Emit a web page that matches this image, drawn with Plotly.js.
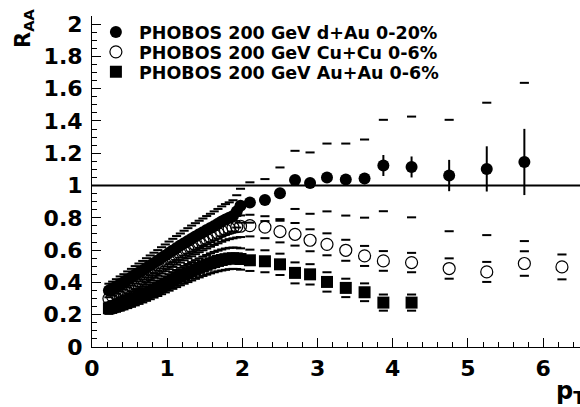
<!DOCTYPE html>
<html>
<head>
<meta charset="utf-8">
<script src="https://cdn.plot.ly/plotly-3.0.1.min.js"></script>
<style>html,body{margin:0;padding:0;background:#fff;}#chart{width:580px;height:407px;}</style>
</head>
<body>
<div id="chart"></div>
<script>
// ---- data ----
const seriesNames = ["PHOBOS 200 GeV d+Au 0-20%", "PHOBOS 200 GeV Cu+Cu 0-6%", "PHOBOS 200 GeV Au+Au 0-6%"];

const ptLow = [0.225,0.275,0.325,0.375,0.425,0.475,0.525,0.575,0.625,0.675,0.725,0.775,0.825,0.875,0.925,0.975,
               1.025,1.075,1.125,1.175,1.225,1.275,1.325,1.375,1.425,1.475,1.525,1.575,1.625,1.675,1.725,1.775,
               1.825,1.875,1.925,1.975];

const pt_dAu = ptLow.concat([2.1,2.3,2.5,2.7,2.9,3.125,3.375,3.625,3.875,4.25,4.75,5.25,5.75]);
const raa_dAu = [0.350,0.362,0.375,0.390,0.403,0.418,0.432,0.447,0.462,0.476,0.491,0.506,0.521,0.536,0.552,0.567,
                 0.583,0.598,0.613,0.628,0.643,0.657,0.671,0.685,0.698,0.711,0.724,0.737,0.750,0.763,0.778,0.790,
                 0.800,0.812,0.840,0.875,
                 0.895,0.91,0.952,1.035,1.015,1.05,1.037,1.043,1.124,1.115,1.062,1.103,1.146];
const stat_dAu = [0.01,0.01,0.01,0.01,0.01,0.01,0.01,0.01,0.01,0.01,0.01,0.01,0.01,0.01,0.01,0.01,
                  0.01,0.01,0.01,0.01,0.01,0.01,0.01,0.01,0.01,0.01,0.01,0.01,0.01,0.01,0.01,0.01,
                  0.01,0.01,0.01,0.01,
                  0.01,0.012,0.014,0.016,0.018,0.02,0.025,0.035,0.065,0.065,0.097,0.14,0.205];
const sys_dAu = [0.042,0.043,0.045,0.047,0.048,0.05,0.052,0.054,0.055,0.057,0.059,0.061,0.063,0.064,0.066,0.068,
                 0.07,0.072,0.074,0.075,0.077,0.079,0.081,0.082,0.084,0.085,0.087,0.088,0.09,0.092,0.093,0.095,
                 0.096,0.097,0.1,0.105,
                 0.125,0.13,0.16,0.18,0.19,0.21,0.223,0.242,0.283,0.312,0.345,0.41,0.49];

const pt_CuCu = ptLow.concat([2.1,2.3,2.5,2.7,2.9,3.125,3.375,3.625,3.875,4.25,4.75,5.25,5.75,6.25]);
const raa_CuCu = [0.300,0.312,0.325,0.338,0.352,0.366,0.380,0.395,0.410,0.425,0.440,0.455,0.470,0.485,0.500,0.515,
                  0.530,0.545,0.560,0.575,0.590,0.604,0.618,0.632,0.645,0.658,0.670,0.682,0.694,0.705,0.716,0.726,
                  0.734,0.740,0.745,0.748,
                  0.752,0.742,0.715,0.698,0.661,0.636,0.599,0.564,0.533,0.523,0.486,0.465,0.517,0.496];
const sys_CuCu = [0.027,0.028,0.029,0.03,0.032,0.033,0.034,0.036,0.037,0.038,0.04,0.041,0.042,0.044,0.045,0.046,
                  0.048,0.049,0.05,0.052,0.053,0.054,0.056,0.057,0.058,0.059,0.06,0.061,0.062,0.063,0.064,0.065,
                  0.066,0.067,0.067,0.067,
                  0.067,0.068,0.067,0.07,0.068,0.068,0.065,0.062,0.061,0.06,0.063,0.062,0.076,0.077];

const pt_AuAu = ptLow.concat([2.1,2.3,2.5,2.7,2.9,3.125,3.375,3.625,3.875,4.25]);
const raa_AuAu = [0.240,0.247,0.255,0.263,0.272,0.281,0.290,0.300,0.310,0.320,0.331,0.342,0.353,0.364,0.376,0.388,
                  0.400,0.412,0.424,0.436,0.447,0.458,0.469,0.480,0.490,0.500,0.509,0.518,0.526,0.533,0.539,0.544,
                  0.548,0.550,0.549,0.545,
                  0.537,0.531,0.512,0.459,0.45,0.403,0.366,0.339,0.275,0.275];
const sys_AuAu = [0.035,0.036,0.037,0.038,0.039,0.04,0.041,0.042,0.043,0.044,0.045,0.046,0.047,0.048,0.049,0.05,
                  0.051,0.052,0.053,0.054,0.055,0.056,0.057,0.058,0.059,0.06,0.061,0.062,0.063,0.064,0.065,0.066,
                  0.066,0.066,0.066,0.066,
                  0.066,0.068,0.066,0.065,0.063,0.06,0.057,0.055,0.05,0.05];

const refLine = 1;

// ---- traces ----
const FONT = "DejaVu Sans";
function sysTraces(x, y, s) {
  const up = y.map((v, i) => v + s[i]);
  const dn = y.map((v, i) => v - s[i]);
  const mk = {symbol: "line-ew", size: 6.5, color: "black", line: {color: "black", width: 2}};
  return [
    {x: x, y: up, type: "scatter", mode: "markers", marker: mk, showlegend: false, hoverinfo: "skip"},
    {x: x, y: dn, type: "scatter", mode: "markers", marker: mk, showlegend: false, hoverinfo: "skip"}
  ];
}

const data = [].concat(
  sysTraces(pt_dAu, raa_dAu, sys_dAu),
  sysTraces(pt_CuCu, raa_CuCu, sys_CuCu),
  sysTraces(pt_AuAu, raa_AuAu, sys_AuAu),
  [
    {x: pt_AuAu, y: raa_AuAu, name: " ", type: "scatter", mode: "markers",
     marker: {symbol: "square", size: 12, color: "black"}},
    {x: pt_CuCu, y: raa_CuCu, name: " ", type: "scatter", mode: "markers",
     marker: {symbol: "circle-open", size: 12, color: "black", line: {width: 1.2, color: "black"}}},
    {x: pt_dAu, y: raa_dAu, name: " ", type: "scatter", mode: "markers",
     error_y: {type: "data", array: stat_dAu, visible: true, width: 0, thickness: 2, color: "black"},
     marker: {symbol: "circle", size: 12, color: "black"}}
  ]
);

const legFont = {family: FONT, size: 17.5, color: "black", weight: "bold"};
const legendText = seriesNames.map((t, i) => ({
  text: t, xref: "paper", x: 0, xanchor: "left", xshift: 45,
  yref: "paper", y: 1, yanchor: "middle", yshift: -(17 + 20 * i),
  showarrow: false, font: legFont
}));

const axisFont = {family: FONT, size: 22, color: "black", weight: "bold"};
const layout = {
  width: 580, height: 407,
  margin: {l: 92, r: 0, t: 16, b: 60, pad: 0},
  paper_bgcolor: "white", plot_bgcolor: "white",
  showlegend: true,
  legend: {x: 0.008, xanchor: "left", y: 0.997, yanchor: "top", traceorder: "reversed",
           font: {family: FONT, size: 13, color: "black"},
           bgcolor: "rgba(0,0,0,0)", borderwidth: 0},
  xaxis: {range: [0, 6.49], dtick: 1, tick0: 0, ticks: "inside", ticklen: 9, tickwidth: 1, tickcolor: "black",
          showline: true, linecolor: "black", linewidth: 1, showgrid: false, zeroline: false,
          tickfont: axisFont, ticklabelstandoff: 2,
          minor: {dtick: 0.2, ticks: "inside", ticklen: 5, tickwidth: 1, tickcolor: "black", showgrid: false}},
  yaxis: {range: [0, 2.05], dtick: 0.2, tick0: 0, ticks: "inside", ticklen: 9, tickwidth: 1, tickcolor: "black",
          showline: true, linecolor: "black", linewidth: 1, showgrid: false, zeroline: false,
          tickfont: axisFont, ticklabelstandoff: 4,
          minor: {dtick: 0.05, ticks: "inside", ticklen: 5, tickwidth: 1, tickcolor: "black", showgrid: false}},
  shapes: [{type: "line", xref: "paper", x0: 0, x1: 1, yref: "y", y0: refLine, y1: refLine,
            line: {color: "black", width: 2}}],
  annotations: [
    {text: "R<sub>AA</sub>", textangle: -90, xref: "paper", x: 0, xanchor: "center", xshift: -68,
     yref: "paper", y: 1, yanchor: "top", yshift: 10, showarrow: false,
     font: {family: FONT, size: 21, color: "black", weight: "bold"}},
    {text: "p<sub>T</sub>", xref: "paper", x: 1, xanchor: "left", xshift: -26,
     yref: "paper", y: 0, yanchor: "top", yshift: -28, showarrow: false,
     font: {family: FONT, size: 24, color: "black", weight: "bold"}}
  ].concat(legendText)
};

Plotly.newPlot("chart", data, layout, {displayModeBar: false, staticPlot: true});
</script>
</body>
</html>
